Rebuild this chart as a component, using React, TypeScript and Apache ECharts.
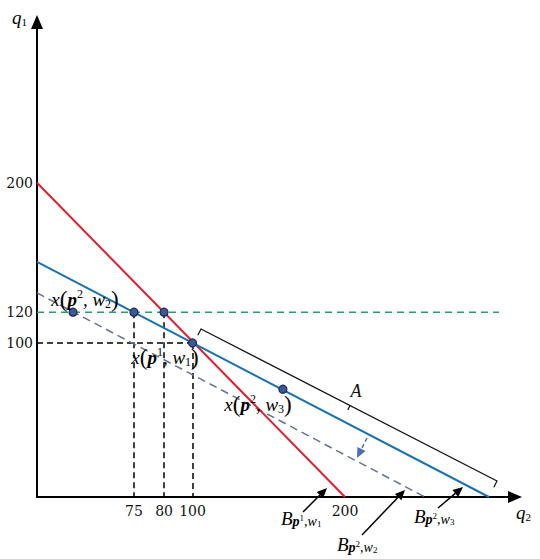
import React, { useEffect, useRef } from 'react';
import * as echarts from 'echarts';

// Budget lines (plot units)
const budgetP1W1: number[][] = [[0, 204], [200, 0]];
const budgetP2W3: number[][] = [[0, 152.6], [293.5, 0]];
const budgetP2W2: number[][] = [[0, 132.5], [251.9, 0]];
const level120: number[][] = [[0, 120], [300, 120]];
const guideLines: number[][][] = [
  [[0, 100], [101, 100]],
  [[63, 120], [63, 0]],
  [[82.5, 120], [82.5, 0]],
  [[101, 100], [101, 0]],
];
const bundles: number[][] = [[23.4, 120], [63, 120], [82.5, 120], [101, 100], [159.7, 70]];
const xTickPos = [63, 82.5, 101, 200];
const xTickLabels = ['75', '80', '100', '200'];
const yTickPos = [100, 120, 204];
const yTickLabels = ['100', '120', '200'];

const SERIF = 'Liberation Serif';
const INK = '#111';

function arrow(x1: number, y1: number, x2: number, y2: number, color: string, dash?: number[]) {
  const a = Math.atan2(y2 - y1, x2 - x1);
  const L = 10, W = 4.5;
  const c = Math.cos(a), s = Math.sin(a);
  const bx = x2 - L * c, by = y2 - L * s;
  const px = -s * W, py = c * W;
  return [
    { type: 'line', z: 100, shape: { x1, y1, x2: bx, y2: by }, style: { stroke: color, lineWidth: 1.5, lineDash: dash } },
    { type: 'polygon', z: 100, shape: { points: [[x2, y2], [bx + px, by + py], [bx - px, by - py]] }, style: { fill: color } },
  ];
}

const mathRich = {
  i: { fontFamily: SERIF, fontStyle: 'italic', fontSize: 19, color: INK, lineHeight: 22, verticalAlign: 'middle' },
  par: { fontFamily: SERIF, fontSize: 23, color: INK, lineHeight: 22, verticalAlign: 'middle' },
  b: { fontFamily: SERIF, fontStyle: 'italic', fontWeight: 'bold', fontSize: 19, color: INK, lineHeight: 22, verticalAlign: 'middle' },
  sup: { fontFamily: SERIF, fontSize: 12, color: INK, lineHeight: 12, verticalAlign: 'top' },
  sub: { fontFamily: SERIF, fontSize: 12, color: INK, lineHeight: 11, verticalAlign: 'bottom' },
  B: { fontFamily: SERIF, fontStyle: 'italic', fontSize: 19, color: INK, lineHeight: 20, verticalAlign: 'middle' },
  sb: { fontFamily: SERIF, fontStyle: 'italic', fontWeight: 'bold', fontSize: 14, color: INK, lineHeight: 14, verticalAlign: 'bottom' },
  si: { fontFamily: SERIF, fontStyle: 'italic', fontSize: 14, color: INK, lineHeight: 14, verticalAlign: 'bottom' },
  ss: { fontFamily: SERIF, fontSize: 9, color: INK, lineHeight: 10, verticalAlign: 'middle' },
  s2: { fontFamily: SERIF, fontSize: 9, color: INK, lineHeight: 8, verticalAlign: 'bottom' },
};

function mathText(text: string, x: number, y: number) {
  return {
    type: 'text', z: 100, x, y,
    style: { text, rich: mathRich, align: 'center', verticalAlign: 'middle' },
  };
}

function bText(text: string, x: number, y: number) {
  return {
    type: 'text', z: 100, x, y,
    style: { text, rich: mathRich, align: 'left', verticalAlign: 'middle' },
  };
}

const axisNameRich = {
  i: { fontFamily: SERIF, fontStyle: 'italic', fontSize: 19, color: INK, lineHeight: 20, verticalAlign: 'middle' },
  sub: { fontFamily: SERIF, fontSize: 11, color: INK, lineHeight: 10, verticalAlign: 'bottom' },
};

function perp(x1: number, y1: number, x2: number, y2: number, len: number) {
  const dx = x2 - x1, dy = y2 - y1;
  const n = Math.hypot(dx, dy);
  return [(-dy / n) * len, (dx / n) * len];
}

export default function App() {
  const ref = useRef<HTMLDivElement>(null);
  useEffect(() => {
    if (!ref.current) return;
    const chart = echarts.init(ref.current, undefined, { renderer: 'svg' });

    // bracket A
    const bx1 = 201, by1 = 329, bx2 = 497, by2 = 481;
    const [tx, ty] = perp(bx1, by1, bx2, by2, 7);
    const mx = 350, my = by1 + ((by2 - by1) / (bx2 - bx1)) * (mx - bx1);

    const fmtX = (v: number) => {
      const i = xTickPos.findIndex((p) => Math.abs(p - v) < 0.01);
      return i >= 0 ? xTickLabels[i] : '';
    };
    const fmtY = (v: number) => {
      const i = yTickPos.findIndex((p) => Math.abs(p - v) < 0.01);
      return i >= 0 ? yTickLabels[i] : '';
    };

    const option: any = {
      animation: false,
      backgroundColor: '#fff',
      grid: { left: 37, right: 25, top: 22, bottom: 62 },
      xAxis: {
        type: 'value', min: 0, max: 310.4,
        axisLine: { show: true, onZero: false, symbol: ['none', 'triangle'], symbolSize: [12, 14], lineStyle: { color: '#000', width: 2 } },
        axisTick: { show: false },
        splitLine: { show: false },
        axisLabel: { customValues: xTickPos, formatter: fmtX, fontFamily: 'DejaVu Serif', fontSize: 14, color: INK, margin: 7 },
      },
      yAxis: {
        type: 'value', min: 0, max: 308.4,
        axisLine: { show: true, onZero: false, symbol: ['none', 'triangle'], symbolSize: [12, 14], lineStyle: { color: '#000', width: 2 } },
        axisTick: { show: false },
        splitLine: { show: false },
        axisLabel: { customValues: yTickPos, formatter: fmtY, fontFamily: 'DejaVu Serif', fontSize: 14, color: INK, margin: 4 },
      },
      series: [
        { type: 'line', data: level120, symbol: 'none', lineStyle: { color: '#2a9d6a', width: 1.5, type: [7, 5] }, z: 2 },
        { type: 'lines', coordinateSystem: 'cartesian2d', data: guideLines.map((c) => ({ coords: c })), lineStyle: { color: '#000', width: 1.5, type: [6, 4], opacity: 1 }, z: 2 },
        { type: 'line', data: budgetP2W2, symbol: 'none', lineStyle: { color: '#66728f', width: 1.5, type: [8, 5] }, z: 3 },
        { type: 'line', data: budgetP1W1, symbol: 'none', lineStyle: { color: '#e0202e', width: 2 }, z: 4 },
        { type: 'line', data: budgetP2W3, symbol: 'none', lineStyle: { color: '#1a72b3', width: 2 }, z: 5 },
        { type: 'scatter', data: bundles, symbol: 'circle', symbolSize: 8, itemStyle: { color: '#3c5a9a', borderColor: '#1c2a50', borderWidth: 1.2, opacity: 1 }, z: 6 },
      ],
      graphic: [
        // bracket A
        { type: 'polyline', z: 100, shape: { points: [[bx1 + tx, by1 + ty], [bx1, by1], [bx2, by2], [bx2 + tx, by2 + ty]] }, style: { stroke: INK, lineWidth: 1.2, fill: 'none' } },
        { type: 'line', z: 100, shape: { x1: mx, y1: my, x2: mx + tx * 0.7, y2: my + ty * 0.7 }, style: { stroke: INK, lineWidth: 1.2 } },
        { type: 'text', z: 100, x: 356, y: 391, style: { text: 'A', fontFamily: SERIF, fontStyle: 'italic', fontSize: 18, fill: INK, align: 'center', verticalAlign: 'middle' } },
        ...arrow(367, 438, 357, 458, '#4a6fb5', [4, 3]),
        // B arrows
        ...arrow(303, 512, 327, 488, '#000'),
        ...arrow(362, 535, 405, 490, '#000'),
        ...arrow(438, 508, 463, 487, '#000'),
        // labels
        mathText('{i|x}{par|(}{b|p}{sup|2}{i|, w}{sub|2}{par|)}', 85, 299),
        mathText('{i|x}{par|(}{b|p}{sup|1}{i|, w}{sub|1}{par|)}', 165, 357),
        mathText('{i|x}{par|(}{b|p}{sup|2}{i|, w}{sub|3}{par|)}', 258, 404),
        bText('{B|B}{sb|p}{ss|1}{si|,w}{s2|1}', 281, 518),
        bText('{B|B}{sb|p}{ss|2}{si|,w}{s2|2}', 337, 544),
        bText('{B|B}{sb|p}{ss|2}{si|,w}{s2|3}', 414, 516),
        { type: 'text', z: 100, x: 516, y: 512, style: { text: '{i|q}{sub|2}', rich: axisNameRich, align: 'left', verticalAlign: 'middle' } },
        { type: 'text', z: 100, x: 12, y: 17, style: { text: '{i|q}{sub|1}', rich: axisNameRich, align: 'left', verticalAlign: 'middle' } },
      ],
    };
    chart.setOption(option);
    return () => chart.dispose();
  }, []);
  return <div ref={ref} style={{ position: 'fixed', left: 0, top: 0, width: 540, height: 559, background: '#fff' }} />;
}
